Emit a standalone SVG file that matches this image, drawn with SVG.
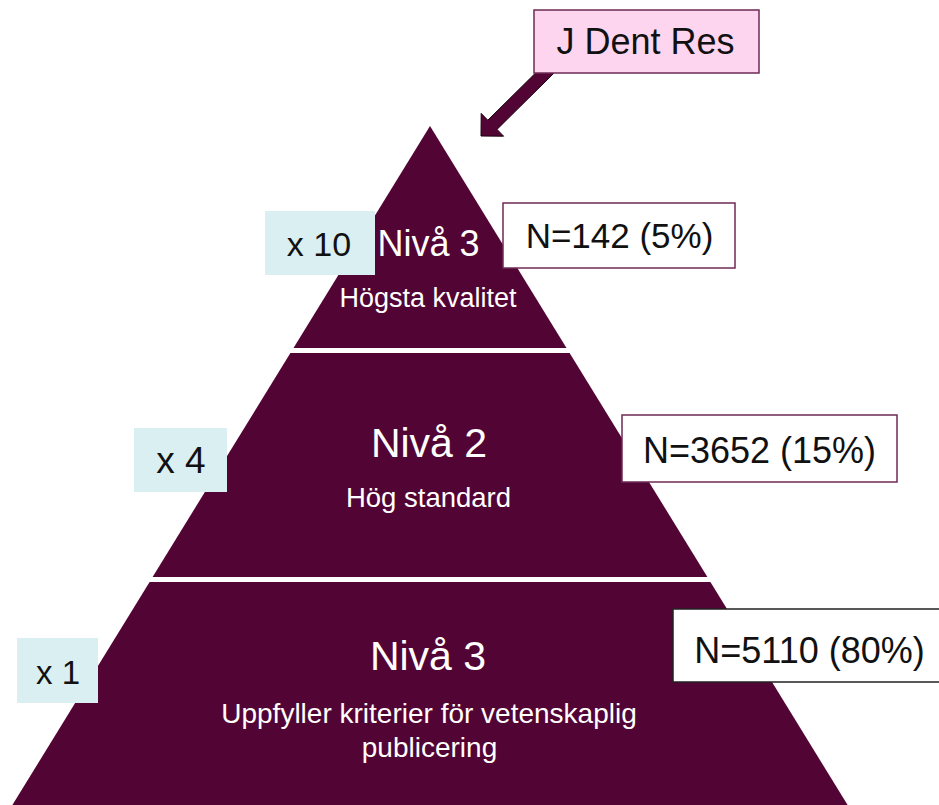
<svg xmlns="http://www.w3.org/2000/svg" width="939" height="805" viewBox="0 0 939 805">
<defs>
<style>
.tier{fill:#520534;}
.wt{fill:#ffffff;font-family:"Liberation Sans",Arial,sans-serif;text-anchor:middle;}
.bt{fill:#111111;font-family:"Liberation Sans",Arial,sans-serif;text-anchor:middle;}
.mult{fill:#daeff2;}
.nbox{fill:#ffffff;stroke:#6e2a55;stroke-width:1.5;}
</style>
</defs>
<rect width="939" height="805" fill="#ffffff"/>
<g id="tier-top">
<polygon class="tier" points="430,126 566.5,348 293.5,348"/>
<text class="wt" x="428.5" y="256" font-size="36">Nivå 3</text>
<text class="wt" x="428" y="307" font-size="27">Högsta kvalitet</text>
</g>
<g id="tier-middle">
<polygon class="tier" points="290.4,353 569.6,353 707.4,577 152.6,577"/>
<text class="wt" x="429" y="457" font-size="41">Nivå 2</text>
<text class="wt" x="428.5" y="507" font-size="27.5">Hög standard</text>
</g>
<g id="tier-bottom">
<polygon class="tier" points="149.6,582 710.4,582 850.7,810 9.3,810"/>
<text class="wt" x="428" y="670" font-size="41">Nivå 3</text>
<text class="wt" x="429" y="723" font-size="28">Uppfyller kriterier för vetenskaplig</text>
<text class="wt" x="429.5" y="757" font-size="28">publicering</text>
</g>
<g id="connectors">
<polygon points="555.4,53.4 564.6,62.6 497,129.4 503.6,136.2 481,136 481.2,113.4 487.8,120.2" fill="#520534" stroke="#1a0010" stroke-width="1"/>
</g>
<g id="source">
<rect x="534" y="10" width="225" height="63" fill="#fdd5ee" stroke="#6e2a55" stroke-width="1.5"/>
<text class="bt" x="645.5" y="54" font-size="36">J Dent Res</text>
</g>
<g id="mult-10">
<rect class="mult" x="265" y="211" width="110" height="64"/>
<text class="bt" x="319" y="256" font-size="34">x 10</text>
</g>
<g id="mult-4">
<rect class="mult" x="134" y="428" width="93" height="64"/>
<text class="bt" x="181" y="473" font-size="37">x 4</text>
</g>
<g id="mult-1">
<rect class="mult" x="17" y="638" width="81" height="65"/>
<text class="bt" x="58" y="684" font-size="33">x 1</text>
</g>
<g id="n-142">
<rect class="nbox" x="503" y="203" width="232" height="65"/>
<text class="bt" x="619.5" y="248" font-size="35">N=142 (5%)</text>
</g>
<g id="n-3652">
<rect class="nbox" x="622" y="415" width="275" height="67"/>
<text class="bt" x="759.5" y="463" font-size="36">N=3652 (15%)</text>
</g>
<g id="n-5110">
<rect x="673" y="609" width="272" height="73" fill="#ffffff" stroke="#222222" stroke-width="1.5"/>
<text class="bt" x="809.5" y="663" font-size="36">N=5110 (80%)</text>
</g>
</svg>
